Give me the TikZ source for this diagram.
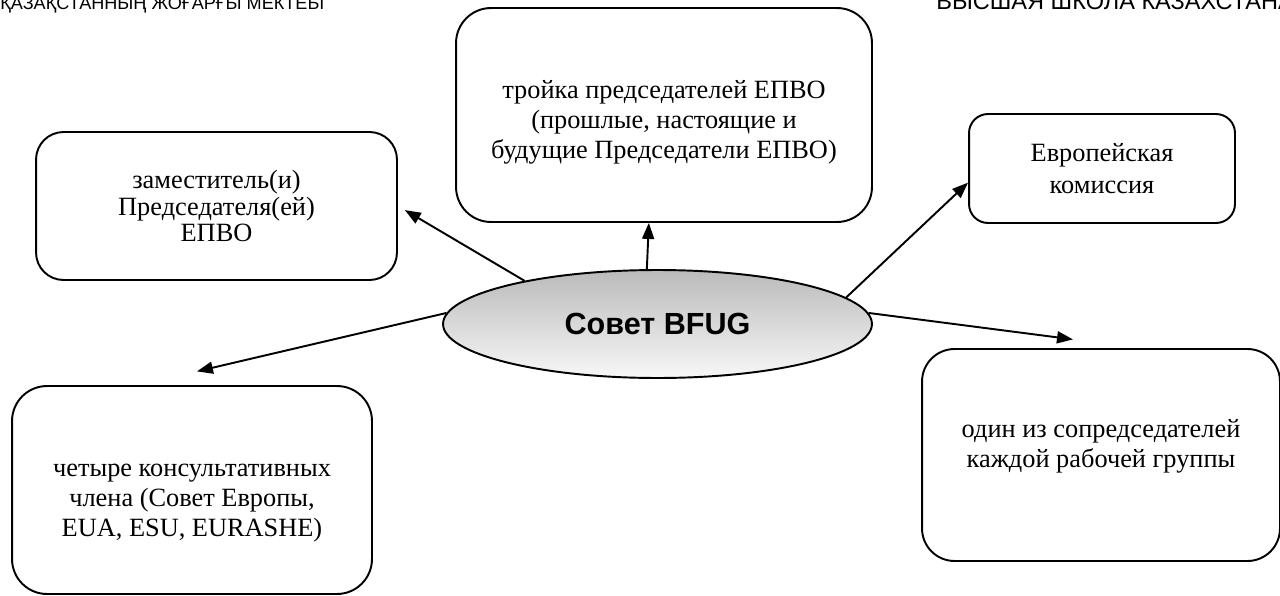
\documentclass[tikz,border=0pt]{standalone}
\usepackage{fontspec}
\setmainfont{Liberation Serif}
\newfontfamily\headfont{Liberation Sans}
\usetikzlibrary{shapes.geometric}
\usetikzlibrary{arrows.meta}

\begin{document}
\begin{tikzpicture}[x=0.02cm,y=-0.02cm,
		card/.style={draw,line width=1.1pt,rounded corners=#1,align=center,inner sep=0pt,font=\fontsize{15}{17}\selectfont},
		arrow/.style={line width=1.1pt,-{Triangle[length=0.32cm,width=0.24cm]}}]
		%Frame
			\useasboundingbox (0,0) rectangle (1280,595);
			\clip (0,0) rectangle (1280,595);
		%Page header
			\node[anchor=base west,inner sep=0pt,font=\headfont\fontsize{10.3}{12}\selectfont] (headkz) at (0,10) {ҚАЗАҚСТАННЫҢ ЖОҒАРҒЫ МЕКТЕБІ};
			\node[anchor=base west,inner sep=0pt,font=\headfont\fontsize{13.4}{15}\selectfont] (headru) at (936,10) {ВЫСШАЯ ШКОЛА КАЗАХСТАНА};
		%Council
			\node[ellipse,draw,line width=1.1pt,top color=black!27,bottom color=black!3,minimum width=8.58cm,minimum height=2.16cm,font=\headfont\bfseries\fontsize{17.4}{20}\selectfont] (council) at (657.5,324) {Совет BFUG};
		%Members
			\node[card=0.55cm,minimum width=7.22cm,minimum height=2.96cm,font=\fontsize{15}{15}\selectfont] (vice) at (216.5,206) {заместитель(и)\\Председателя(ей)\\ЕПВО};
			\node[card=0.7cm,minimum width=8.32cm,minimum height=4.28cm,text height=1.85cm] (troika) at (664,115) {тройка председателей ЕПВО\\(прошлые, настоящие и\\будущие Председатели ЕПВО)};
			\node[card=0.38cm,minimum width=5.32cm,minimum height=2.18cm,font=\fontsize{15}{18.5}\selectfont] (commission) at (1102,168.5) {Европейская\\комиссия};
			\node[card=0.7cm,minimum width=7.2cm,minimum height=4.16cm,text height=1.96cm] (consult) at (192,490) {четыре консультативных\\члена (Совет Европы,\\EUA, ESU, EURASHE)};
			\node[card=0.65cm,minimum width=7.16cm,minimum height=4.24cm,text depth=0.45cm] (cochair) at (1101,455) {один из сопредседателей\\каждой рабочей группы};
		%Arrows
			\foreach \from/\to/\gap in {162/vice.east/0.16,101/troika.262/0,8/commission.186/0,177/consult.117/1.2,3/cochair.70/1.35}
			{
				\draw[arrow,shorten >=\gap cm] (council.\from) -- (\to);
			}
	\end{tikzpicture}
\end{document}
